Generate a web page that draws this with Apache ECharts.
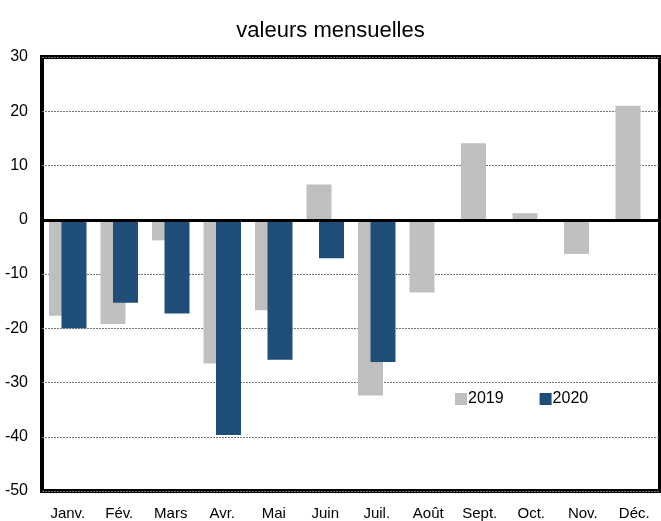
<!DOCTYPE html>
<html>
<head>
<meta charset="utf-8">
<script src="https://cdn.jsdelivr.net/npm/echarts@6/dist/echarts.min.js"></script>
<style>
  html, body { margin: 0; padding: 0; background: #fff; }
  #chart { width: 661px; height: 521px; }
</style>
</head>
<body>
<div id="chart"></div>
<script>
// données
const mois = ['Janv.', 'Fév.', 'Mars', 'Avr.', 'Mai', 'Juin', 'Juil.', 'Août', 'Sept.', 'Oct.', 'Nov.', 'Déc.']
const val2019 = [-17.7, -19.2, -3.8, -26.5, -16.7, 6.5, -32.4, -13.4, 14.1, 1.2, -6.3, 21.0]
const val2020 = [-20.0, -15.3, -17.3, -39.7, -25.8, -7.1, -26.2]

const police = '"Liberation Sans Narrow", "Liberation Sans", Arial, sans-serif'

let myChart = echarts.init(document.getElementById('chart'))

let options = {
  animation: false,
  // titre
  title: {
    text: 'valeurs mensuelles',
    left: 'center',
    top: 15,
    textStyle: { fontFamily: police, fontWeight: 'normal', fontSize: 22, color: '#000' }
  },
  legend: {
    data: ['2019', '2020'],
    left: 455,
    top: 391,
    padding: 0,
    itemWidth: 12,
    itemHeight: 12,
    itemGap: 36,
    icon: 'rect',
    itemStyle: { borderWidth: 0 },
    textStyle: { fontFamily: police, fontSize: 16, color: '#000', padding: [0, 0, 0, -4] }
  },
  grid: {
    left: 42,
    right: 1,
    top: 57,
    bottom: 30,
    show: true,
    borderColor: '#000',
    borderWidth: 4
  },
  xAxis: {
    type: 'category',
    data: mois,
    axisLine: { show: false, onZero: false },
    axisTick: { show: false },
    axisLabel: { fontFamily: police, fontSize: 15, color: '#000', margin: 15 }
  },
  yAxis: {
    type: 'value',
    min: -50,
    max: 30,
    interval: 10,
    axisLine: { show: false },
    axisTick: { show: false },
    axisLabel: { fontFamily: police, fontSize: 16, color: '#000', margin: 14 },
    splitLine: { lineStyle: { color: '#777', type: [2, 1], width: 1 } }
  },
  series: [
    {
      name: '2019',
      type: 'bar',
      data: val2019,
      barWidth: 25,
      barGap: '-50%',
      itemStyle: { color: '#BFBFBF' },
      markLine: {
        silent: true,
        symbol: 'none',
        label: { show: false },
        lineStyle: { color: '#000', width: 3, type: 'solid' },
        data: [{ yAxis: 0 }],
        z: 10
      }
    },
    {
      name: '2020',
      type: 'bar',
      data: val2020,
      barWidth: 25,
      itemStyle: { color: '#1F4E79' }
    }
  ]
}

myChart.setOption(options)
</script>
</body>
</html>
